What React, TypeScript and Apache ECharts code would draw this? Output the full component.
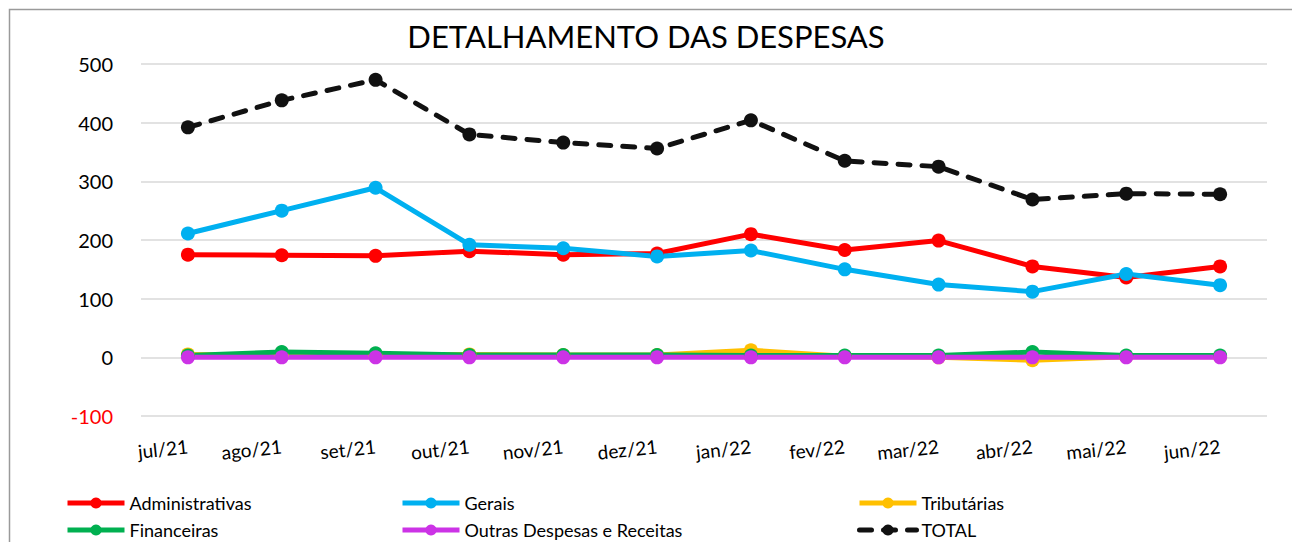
import React, { useEffect, useRef } from "react";
import * as echarts from "echarts";

const categories = ["jul/21", "ago/21", "set/21", "out/21", "nov/21", "dez/21", "jan/22", "fev/22", "mar/22", "abr/22", "mai/22", "jun/22"];
const administrativas = [175, 174, 173, 181, 175, 177, 210, 183, 199, 155, 136, 155];
const gerais = [211, 250, 289, 192, 186, 172, 182, 150, 124, 112, 142, 123];
const tributarias = [5, 3, 3, 5, 4, 4, 12, 2, 0, -5, 1, 1];
const financeiras = [3, 9, 7, 4, 4, 4, 3, 3, 3, 9, 3, 3];
const outras = [0, 0, 0, 0, 0, 0, 0, 0, 0, 0, 0, 0];
const total = [392, 438, 473, 380, 366, 356, 404, 335, 325, 269, 279, 278];
const yTicks = { min: -100, max: 500, interval: 100 };

const FONT = "Lato";

export default function App() {
  const ref = useRef<HTMLDivElement>(null);
  useEffect(() => {
    const chart = echarts.init(ref.current!, null, { renderer: "svg" });
    const mk = (name: string, data: number[], color: string, dashed = false) => ({
      name,
      type: "line",
      data,
      symbol: "circle",
      symbolSize: 14,
      showSymbol: true,
      lineStyle: dashed
        ? { color, width: 5, type: [12, 12], cap: "round" }
        : { color, width: 5 },
      itemStyle: { color },
      emphasis: { disabled: true },
    });
    const lg = (name: string, left: number, top: number) => ({
      orient: "horizontal",
      left,
      top,
      padding: 0,
      itemWidth: 57,
      itemHeight: 14,
      lineStyle: { width: 5 },
      textStyle: { fontFamily: FONT, fontSize: 18, color: "#000" },
      data: [name],
    });
    chart.setOption({
      animation: false,
      textStyle: { fontFamily: FONT },
      title: {
        text: "DETALHAMENTO DAS DESPESAS",
        left: "center",
        top: 15,
        textStyle: { fontFamily: FONT, fontSize: 31, fontWeight: "normal", color: "#000" },
      },
      graphic: [
        {
          type: "rect",
          shape: { x: 9.5, y: 9.5, width: 1400, height: 700 },
          style: { fill: "none", stroke: "#9a9a9a", lineWidth: 1.5 },
          silent: true,
        },
      ],
      grid: { left: 141, right: 25, top: 64, bottom: 126 },
      xAxis: {
        type: "category",
        data: categories,
        boundaryGap: true,
        axisLine: { show: false },
        axisTick: { show: false },
        axisLabel: { fontFamily: FONT, fontSize: 19, color: "#000", rotate: 6, margin: 30 },
      },
      yAxis: {
        type: "value",
        min: yTicks.min,
        max: yTicks.max,
        interval: yTicks.interval,
        axisLine: { show: false },
        axisTick: { show: false },
        splitLine: { lineStyle: { color: "#d9d9d9", width: 1.5 } },
        axisLabel: {
          fontFamily: FONT,
          fontSize: 20,
          margin: 28,
          color: (v: any) => (Number(v) < 0 ? "#ff0000" : "#000"),
        },
      },
      legend: [
        lg("Administrativas", 65, 494),
        lg("Financeiras", 65, 521),
        lg("Gerais", 400, 494),
        lg("Outras Despesas e Receitas", 400, 521),
        lg("Tributárias", 857, 494),
        lg("TOTAL", 857, 521),
      ],
      series: [
        mk("Administrativas", administrativas, "#ff0000"),
        mk("Gerais", gerais, "#00b0f0"),
        mk("Tributárias", tributarias, "#ffc000"),
        mk("Financeiras", financeiras, "#00b050"),
        mk("Outras Despesas e Receitas", outras, "#cc33e6"),
        mk("TOTAL", total, "#111111", true),
      ],
    });
    return () => chart.dispose();
  }, []);
  return (
    <div
      ref={ref}
      style={{ position: "fixed", left: 0, top: 0, width: 1292, height: 542, background: "#fff" }}
    />
  );
}
